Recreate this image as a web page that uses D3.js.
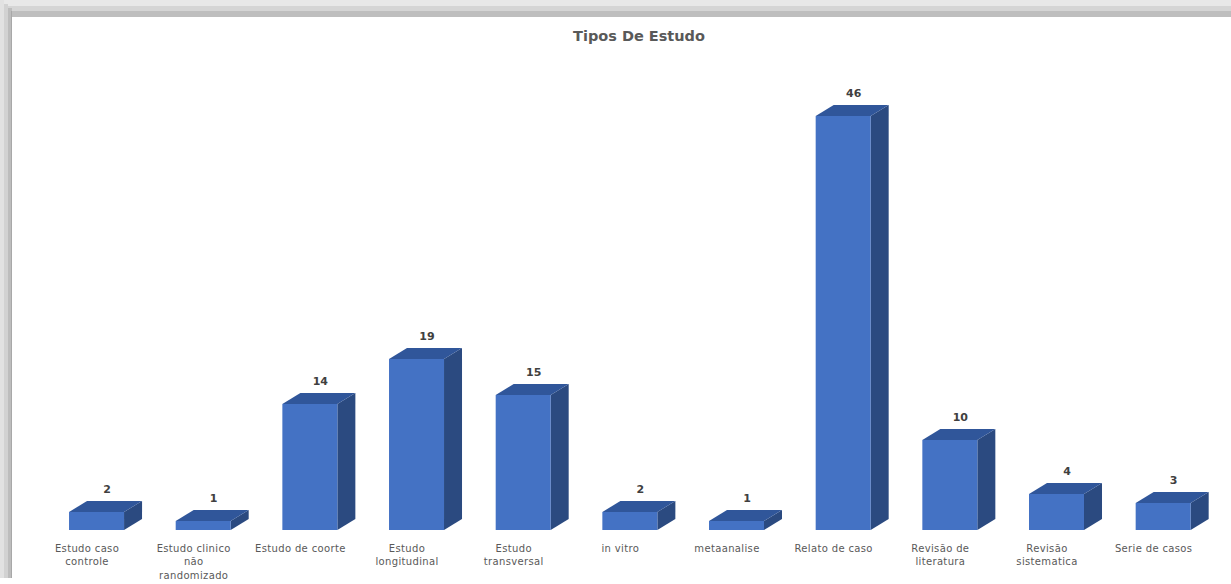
<!DOCTYPE html>
<html><head><meta charset="utf-8">
<script src="https://cdn.jsdelivr.net/npm/d3@7"></script>
<style>html,body{margin:0;padding:0;background:#fff;overflow:hidden}</style>
</head><body>
<svg id="c" width="1231" height="584"></svg>
<script>
const categories = ["Estudo caso controle","Estudo clinico não randomizado","Estudo de coorte","Estudo longitudinal","Estudo transversal","in vitro","metaanalise","Relato de caso","Revisão de literatura","Revisão sistematica","Serie de casos"];
const labelLines = [["Estudo caso","controle"],["Estudo clinico","não","randomizado"],["Estudo de coorte"],["Estudo","longitudinal"],["Estudo","transversal"],["in vitro"],["metaanalise"],["Relato de caso"],["Revisão de","literatura"],["Revisão","sistematica"],["Serie de casos"]];
const values = [2,1,14,19,15,2,1,46,10,4,3];
const title = "Tipos De Estudo";

const FONT = "'DejaVu Sans', Verdana, sans-serif";
const svg = d3.select("#c");
// frame shadow
svg.append("rect").attr("x",0).attr("y",0).attr("width",1231).attr("height",6).attr("fill","#e8e8e8");
svg.append("rect").attr("x",0).attr("y",6).attr("width",1231).attr("height",5).attr("fill","#d5d5d5");
svg.append("rect").attr("x",0).attr("y",11).attr("width",1231).attr("height",6).attr("fill","#bebebe");
svg.append("rect").attr("x",0).attr("y",0).attr("width",4).attr("height",578).attr("fill","#e2e2e2");
svg.append("rect").attr("x",4).attr("y",4).attr("width",4).attr("height",574).attr("fill","#d2d2d2");
svg.append("rect").attr("x",8).attr("y",8).attr("width",4).attr("height",570).attr("fill","#bdbdbd");
svg.append("rect").attr("x",11).attr("y",11).attr("width",1).attr("height",567).attr("fill","#a8a8a8");
svg.append("rect").attr("x",12).attr("y",17).attr("width",1219).attr("height",567).attr("fill","#ffffff");

const x = d3.scaleBand().domain(categories).range([33.7, 1207]).paddingInner(0).paddingOuter(0);
const y = d3.scaleLinear().domain([0,50]).range([530,80]);
const bw = 55, dx = 18, dy = 11;
const frontLeft = c => x(c) + x.bandwidth()/2 - 18;

svg.append("text").attr("x",639).attr("y",41).attr("text-anchor","middle")
  .attr("font-family",FONT).attr("font-weight","bold")
  .attr("font-size","14.5px").attr("fill","#595959").text(title);

const g = svg.append("g");
categories.forEach((c,i) => {
  const v = values[i];
  const x0 = frontLeft(c), x1 = x0 + bw, yt = y(v), yb = y(0);
  g.append("path").attr("d",`M${x1},${yt}L${x1+dx},${yt-dy}L${x1+dx},${yb-dy}L${x1},${yb}Z`).attr("fill","#2B4A80");
  g.append("path").attr("d",`M${x0},${yt}L${x0+dx},${yt-dy}L${x1+dx},${yt-dy}L${x1},${yt}Z`).attr("fill","#30569A");
  g.append("rect").attr("x",x0).attr("y",yt).attr("width",bw).attr("height",yb-yt).attr("fill","#4472C4");
  g.append("text").attr("x",x0 + bw/2 + 10.5).attr("y",yt - dy - 8).attr("text-anchor","middle")
    .attr("font-family",FONT).attr("font-weight","bold")
    .attr("font-size","11px").attr("fill","#404040").text(v);
  const t = g.append("text").attr("text-anchor","middle").attr("letter-spacing","0.35px")
    .attr("font-family",FONT).attr("font-size","10px").attr("fill","#595959");
  labelLines[i].forEach((ln,k) => {
    t.append("tspan").attr("x", x(c) + x.bandwidth()/2).attr("y", 552 + k*13.3).text(ln);
  });
});
</script>
</body></html>
